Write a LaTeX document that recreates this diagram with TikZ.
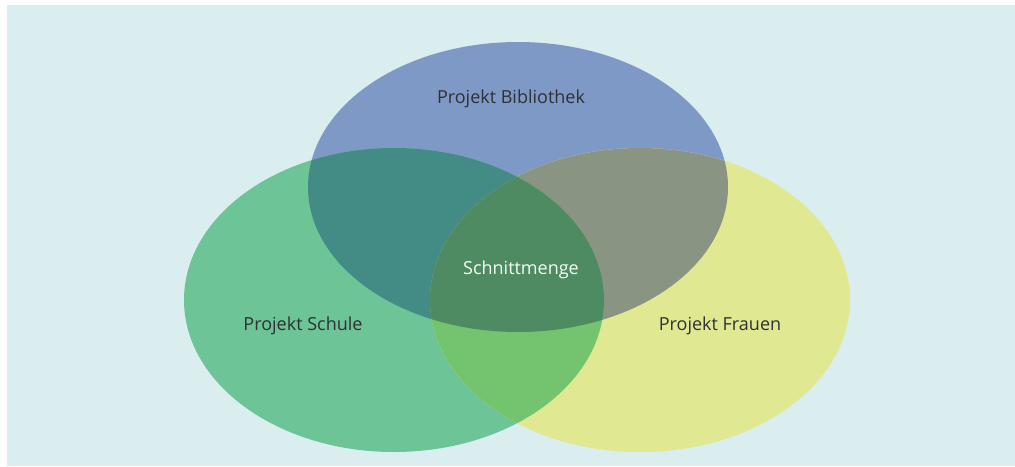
\documentclass[tikz,border=0pt]{standalone}
\usepackage{fontspec}
\setmainfont{Open Sans}
\usetikzlibrary{positioning}

\definecolor{bgcol}{HTML}{DAEEF0}
\definecolor{bibcol}{HTML}{7F99C6}
\definecolor{schcol}{HTML}{6CC497}
\definecolor{fracol}{HTML}{E1E892}
\definecolor{bibsch}{HTML}{438B85}
\definecolor{bibfra}{HTML}{8A9482}
\definecolor{schfra}{HTML}{73C36F}
\definecolor{allcol}{HTML}{4E8B62}
\definecolor{labelcol}{HTML}{2E3135}

\begin{document}
\begin{tikzpicture}[x=1pt,y=-1pt]
    \tikzstyle{label} = [text=labelcol, font=\fontsize{18}{21}\selectfont, inner sep=0pt]
    \tikzstyle{inner} = [label, text=white!95!green]

    \def\bib{(518,187) ellipse [x radius=210, y radius=145]}
    \def\sch{(394,300) ellipse [x radius=210, y radius=152]}
    \def\fra{(640,300) ellipse [x radius=210, y radius=152]}

    \useasboundingbox (0,0) rectangle (1015,466);
    \fill[bgcol] (7,5) rectangle (1015,466);

    % the three sets
    \fill[bibcol] \bib;
    \fill[schcol] \sch;
    \fill[fracol] \fra;

    % overlaps
    \begin{scope}
        \clip \bib;
        \fill[bibsch] \sch;
        \fill[bibfra] \fra;
    \end{scope}
    \begin{scope}
        \clip \sch;
        \fill[schfra] \fra;
    \end{scope}
    \begin{scope}
        \clip \bib;
        \clip \sch;
        \fill[allcol] \fra;
    \end{scope}

    \node (bibl) [label] at (511,99) {Projekt Bibliothek};
    \node (schl) [label] at (303,326) {Projekt Schule};
    \node (fral) [label] at (720,326) {Projekt Frauen};
    \node (mid) [inner] at (521,270) {Schnittmenge};
\end{tikzpicture}
\end{document}
